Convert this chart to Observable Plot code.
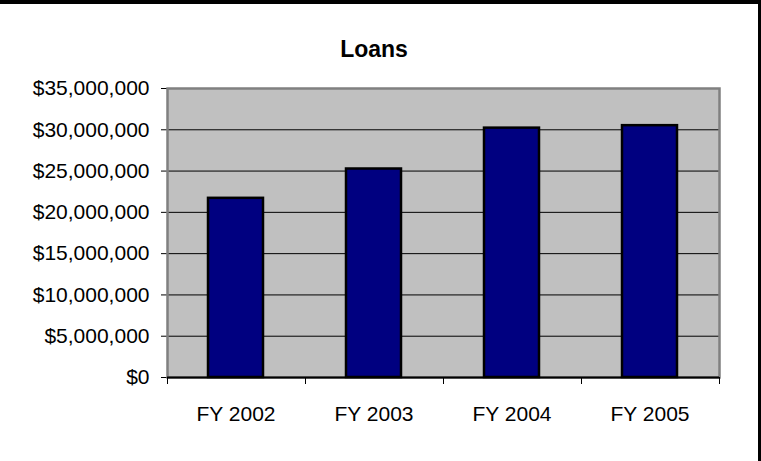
<!DOCTYPE html>
<html>
<head>
<meta charset="utf-8">
<script src="https://cdn.jsdelivr.net/npm/d3@7"></script>
<script src="https://cdn.jsdelivr.net/npm/@observablehq/plot@0.6"></script>
<style>
  body { margin: 0; background: #fff; }
  #chart { position: relative; width: 761px; height: 461px; overflow: hidden; font-family: "Liberation Sans", Arial, sans-serif; background:#fff; }
  #chart svg { position: absolute; left: 0; top: 0; }
  #frame { position: absolute; left: 0; top: 0; width: 761px; height: 461px; box-sizing: border-box; border-top: 4px solid #000; border-right: 3px solid #000; pointer-events: none; }
  #title { position: absolute; left: 0; width: 748px; top: 36px; text-align: center; font-weight: bold; font-size: 23px; line-height: 27px; color: #000; }
</style>
</head>
<body>
<div id="chart">
  <div id="title">Loans</div>
  <div id="frame"></div>
</div>
<script>
const categories = ["FY 2002", "FY 2003", "FY 2004", "FY 2005"];
const loans = [21700000, 25250000, 30200000, 30500000];
const yTicks = [0, 5000000, 10000000, 15000000, 20000000, 25000000, 30000000, 35000000];

const data = categories.map((c, i) => ({year: c, value: loans[i]}));
const money = d => "$" + d3.format(",")(d);

// tick marks at the boundaries between categories (Excel-style)
function boundaryTicks(index, scales, values, dimensions) {
  const x = scales.x;
  const bw = typeof x.bandwidth === "function" ? x.bandwidth() : 0;
  const step = categories.length > 1 ? x(categories[1]) - x(categories[0]) : bw;
  const centers = categories.map(c => x(c) + bw / 2);
  const bounds = [centers[0] - step / 2, ...centers.map(c => c + step / 2)];
  const y0 = dimensions.height - dimensions.marginBottom;
  const g = d3.create("svg:g").attr("stroke", "#000").attr("stroke-width", 1);
  g.selectAll("line").data(bounds).join("line")
    .attr("x1", d => Math.round(d) + 0.5).attr("x2", d => Math.round(d) + 0.5)
    .attr("y1", y0).attr("y2", y0 + 7);
  return g.node();
}

const chart = Plot.plot({
  width: 761,
  height: 461,
  marginLeft: 167,
  marginRight: 42,
  marginTop: 88,
  marginBottom: 84,
  style: {fontFamily: "'Liberation Sans', Arial, sans-serif", fontSize: "21px", color: "#000", background: "transparent"},
  x: {domain: categories, paddingInner: 0.6, paddingOuter: 0.3, label: null, tickSize: 0, tickPadding: 29},
  y: {domain: [0, 35000000], ticks: yTicks, tickFormat: money, label: null, tickSize: 6, tickPadding: 12},
  marks: [
    Plot.frame({fill: "#C0C0C0"}),
    Plot.ruleY(yTicks.filter(d => d > 0 && d < 35000000), {stroke: "#000", strokeWidth: 1}),
    Plot.frame({stroke: "#808080", strokeWidth: 2.5}),
    Plot.barY(data, {x: "year", y: "value", fill: "#000080", stroke: "#000", strokeWidth: 2.5}),
    Plot.ruleY([0], {stroke: "#000", strokeWidth: 2}),
    boundaryTicks
  ]
});
document.getElementById("chart").insertBefore(chart, document.getElementById("title"));
</script>
</body>
</html>
